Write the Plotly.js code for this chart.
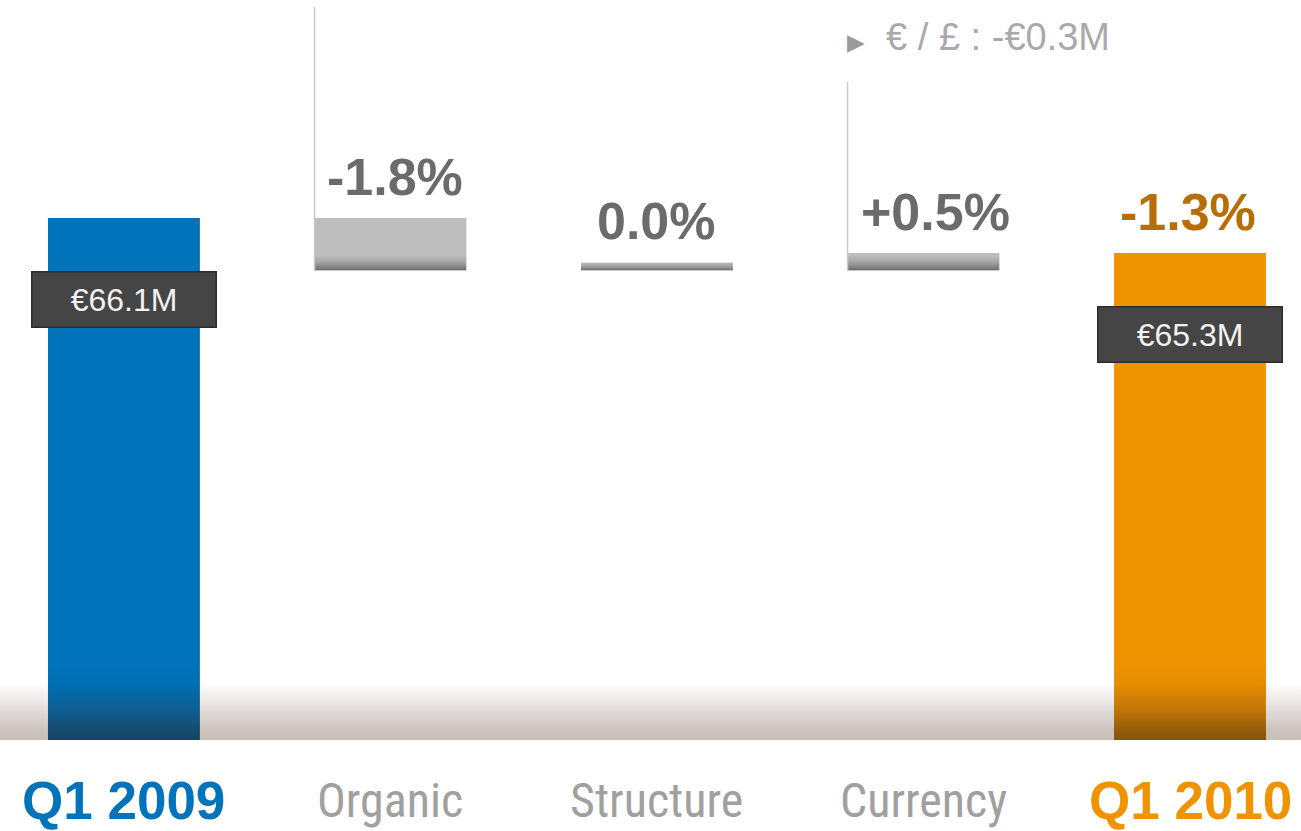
<!DOCTYPE html>
<html><head><meta charset="utf-8">
<script src="https://cdn.plot.ly/plotly-3.0.1.min.js"></script>
<style>html,body{margin:0;padding:0;background:#fff;} #chart{width:1301px;height:831px;}</style>
</head><body><div id="chart"></div>
<script>
// ---- data ----
const categories = ['Q1 2009', 'Organic', 'Structure', 'Currency', 'Q1 2010'];
const startValue = 66.1;          // €M, Q1 2009
const endValue = 65.3;            // €M, Q1 2010
const changeM = [-1.2, 0.0, 0.4]; // €M effect of Organic, Structure, Currency
const changeLabels = ['-1.8%', '0.0%', '+0.5%'];
const totalChangeLabel = '-1.3%';
const totalLabels = ['€66.1M', '€65.3M'];
const fxNote = '€ / £ : -€0.3M';

// ---- style ----
const W = 1301, H = 831, MB = 91;
const PLOT_H = H - MB;
const Y_MIN = 54.17, Y_MAX = 71.08;
const X_MIN = -0.465, X_MAX = 4.4165;
const BAR_W = 0.57;
const BLUE = '#0073BB', ORANGE = '#F09300', GREY = '#BEBEBE';
const PX_PER_UNIT = PLOT_H / (Y_MAX - Y_MIN);
const MIN_VIS = 8 / PX_PER_UNIT; // visible sliver for zero change
const toPaper = v => (v - Y_MIN) / (Y_MAX - Y_MIN);

// waterfall geometry from the data
let level = startValue;
const bases = [], heights = [], tops = [];
changeM.forEach(c => {
  const prev = level; level = level + c;
  const b = Math.min(prev, level);
  const h = Math.max(Math.abs(c), MIN_VIS);
  bases.push(b); heights.push(h); tops.push(b + h);
});

const traces = [
  { type: 'bar', x: [0, 4], y: [startValue, endValue], width: BAR_W,
    marker: { color: [BLUE, ORANGE], line: { width: 0 } }, hoverinfo: 'none', cliponaxis: true },
  { type: 'bar', x: [1, 2, 3], y: heights, base: bases, width: BAR_W,
    marker: { color: GREY, line: { width: 0 } }, hoverinfo: 'none' }
];

function grad(color, stopsArr) {
  const stops = stopsArr.map(s => `<stop offset='${s[0]}' stop-color='${color}' stop-opacity='${s[1]}'/>`).join('');
  const svg = `<svg xmlns='http://www.w3.org/2000/svg' width='100' height='100' preserveAspectRatio='none'><defs><linearGradient id='g' x1='0' y1='0' x2='0' y2='1'>${stops}</linearGradient></defs><rect width='100' height='100' fill='url(#g)'/></svg>`;
  return 'data:image/svg+xml;charset=utf-8,' + encodeURIComponent(svg);
}

const FLOOR_H = 57 / PLOT_H;
const images = [
  { source: grad('rgb(90,60,45)', [[0, 0], [0.45, 0.17], [0.8, 0.3], [1, 0.33]]),
    xref: 'paper', yref: 'paper', x: 0, y: FLOOR_H, sizex: 1, sizey: FLOOR_H,
    xanchor: 'left', yanchor: 'top', sizing: 'stretch', layer: 'above' }
];
// darker bottoms on total bars
[0, 4].forEach(i => images.push({
  source: grad('rgb(0,0,0)', [[0, 0], [0.6, 0.1], [1, 0.3]]),
  xref: 'x', yref: 'paper', x: i - BAR_W / 2, y: 75 / PLOT_H, sizex: BAR_W, sizey: 75 / PLOT_H,
  xanchor: 'left', yanchor: 'top', sizing: 'stretch', layer: 'above' }));
// darker bottom edge on change bars
changeM.forEach((c, k) => {
  const sh = Math.min(heights[k], 15 / PX_PER_UNIT);
  images.push({ source: grad('rgb(40,40,40)', [[0, 0], [0.5, 0.2], [1, 0.55]]),
    xref: 'x', yref: 'y', x: k + 1 - BAR_W / 2, y: bases[k] + sh, sizex: BAR_W, sizey: sh,
    xanchor: 'left', yanchor: 'top', sizing: 'stretch', layer: 'above' });
});

const shapes = [
  { type: 'line', xref: 'x', yref: 'paper', x0: 1 - BAR_W / 2, x1: 1 - BAR_W / 2,
    y0: toPaper(bases[0]), y1: 1 - 7 / PLOT_H, line: { color: '#c9c9c9', width: 1.5 } },
  { type: 'line', xref: 'x', yref: 'paper', x0: 3 - BAR_W / 2, x1: 3 - BAR_W / 2,
    y0: toPaper(bases[2]), y1: 1 - 82 / PLOT_H, line: { color: '#c9c9c9', width: 1.5 } }
];

const BOLD = 'Liberation Sans, Arial, sans-serif';
const NARROW = 'Liberation Sans Narrow, Roboto Condensed, DejaVu Sans Condensed, Liberation Sans, sans-serif';
const annotations = [];
// category labels
const catColors = [BLUE, '#a0a0a0', '#a0a0a0', '#a0a0a0', ORANGE];
categories.forEach((c, i) => {
  const bold = (i === 0 || i === 4);
  annotations.push({ text: bold ? '<b>' + c + '</b>' : c, x: i, xref: 'x', y: 0, yref: 'paper',
    yshift: -60, yanchor: 'middle', xanchor: 'center', showarrow: false,
    font: { family: bold ? BOLD : NARROW, size: bold ? 53 : 48, color: catColors[i] } });
});
// change % labels
const pctShift = [5, 0, 12];
changeLabels.forEach((t, k) => annotations.push({ text: '<b>' + t + '</b>', x: k + 1, xref: 'x',
  y: tops[k], yref: 'y', yshift: 41, xshift: pctShift[k], yanchor: 'middle', showarrow: false,
  font: { family: BOLD, size: 52, color: '#6b6b6b' } }));
annotations.push({ text: '<b>' + totalChangeLabel + '</b>', x: 4, xref: 'x', y: endValue, yref: 'y',
  yshift: 41, xshift: -2, yanchor: 'middle', showarrow: false, font: { family: BOLD, size: 52, color: '#b66e05' } });
// value boxes
[[0, startValue, totalLabels[0]], [4, endValue, totalLabels[1]]].forEach(([i, v, t]) =>
  annotations.push({ text: t, x: i, xref: 'x', y: v, yref: 'y', yshift: -82, yanchor: 'middle',
    showarrow: false, width: 181, height: 52, bgcolor: '#454545', bordercolor: '#2c2c2c',
    borderwidth: 1.5, borderpad: 1, font: { family: 'Liberation Sans, Arial, sans-serif', size: 32, color: '#f2f2f2' } }));
// fx note
annotations.push({ text: "<span style='font-size:23px;fill:#9a9a9a'>▶</span>  " + fxNote, x: 3 - BAR_W / 2, xref: 'x',
  xshift: -3, y: 1 - 37 / PLOT_H, yref: 'paper', xanchor: 'left', yanchor: 'middle', showarrow: false,
  font: { family: 'Liberation Sans, Arial, sans-serif', size: 38, color: '#a9a9a9' } });

const layout = {
  width: W, height: H, margin: { l: 0, r: 0, t: 0, b: MB, pad: 0 },
  paper_bgcolor: '#ffffff', plot_bgcolor: '#ffffff', showlegend: false, barmode: 'overlay',
  xaxis: { range: [X_MIN, X_MAX], visible: false, fixedrange: true },
  yaxis: { range: [Y_MIN, Y_MAX], visible: false, fixedrange: true },
  images: images, shapes: shapes, annotations: annotations
};
Plotly.newPlot('chart', traces, layout, { staticPlot: true, displayModeBar: false });
</script></body></html>
